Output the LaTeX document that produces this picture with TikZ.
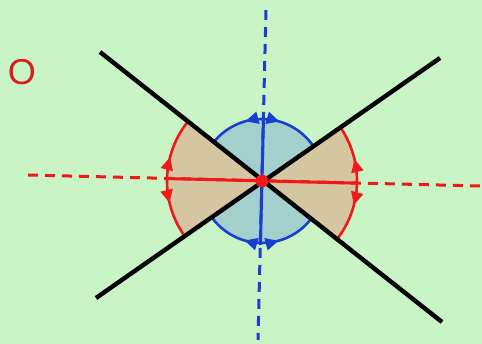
\documentclass[tikz,border=0pt]{standalone}
\usepackage{fontspec}
\setmainfont{Liberation Sans}
\usetikzlibrary{calc,arrows.meta,decorations.markings}
\definecolor{bggreen}{HTML}{C9F5C6}
\definecolor{tanfill}{HTML}{D5C6A2}
\definecolor{tealfill}{HTML}{A3D0CC}
\definecolor{redc}{HTML}{F01818}
\definecolor{bluec}{HTML}{1A3FD0}
\definecolor{labelred}{HTML}{D42020}
\tikzset{
  blinetype/.style={line width=4.4pt,black},
  raxis/.style={line width=3pt,redc},
  baxis/.style={line width=3pt,bluec},
  dashaxis/.style={dash pattern=on 10pt off 7pt},
  barc/.style={line width=2.6pt,bluec},
  rarc/.style={line width=2.6pt,redc},
  arrowat/.style={postaction={decorate},decoration={markings,mark=at position #1 with {\arrow{Triangle[length=13pt,width=12pt]}}}}
}
\begin{document}
\begin{tikzpicture}[x=1pt,y=-1pt]
\fill[bggreen] (0,0) rectangle (482,344);
\useasboundingbox (0,0) rectangle (482,344);
\coordinate (c) at (262,181);
\coordinate (L) at (28,175);
\coordinate (R) at (480,186);
\coordinate (T) at (266,10);
\coordinate (B) at (258,340);
\coordinate (A1) at (100,52);
\coordinate (A2) at (442,322);
\coordinate (B1) at (96,298);
\coordinate (B2) at (440,58);
\node[text=labelred,font=\fontsize{36}{36}\selectfont,inner sep=0pt] (lbl) at (22,72) {O};
\begin{scope}[shift={(c)},y=1pt]
  \fill[tealfill] (0,0) -- (35:62) arc[start angle=35,end angle=141.5,radius=62] -- cycle;
  \fill[tealfill] (0,0) -- (215:62) arc[start angle=215,end angle=321.5,radius=62] -- cycle;
  \fill[tanfill] (0,0) -- (141.5:95) arc[start angle=141.5,end angle=215,radius=95] -- cycle;
  \fill[tanfill] (0,0) -- (-38.5:95) arc[start angle=-38.5,end angle=35,radius=95] -- cycle;
  \draw[barc,arrowat=0.3] (90:62) arc[start angle=90,end angle=35,radius=62];
  \draw[barc,arrowat=0.3] (90:62) arc[start angle=90,end angle=141.5,radius=62];
  \draw[barc,arrowat=0.3] (270:62) arc[start angle=270,end angle=215,radius=62];
  \draw[barc,arrowat=0.3] (270:62) arc[start angle=270,end angle=321.5,radius=62];
  \draw[rarc,arrowat=0.38] (180:95) arc[start angle=180,end angle=141.5,radius=95];
  \draw[rarc,arrowat=0.38] (180:95) arc[start angle=180,end angle=215,radius=95];
  \draw[rarc,arrowat=0.38] (0:95) arc[start angle=0,end angle=35,radius=95];
  \draw[rarc,arrowat=0.38] (0:95) arc[start angle=0,end angle=-38.5,radius=95];
\end{scope}
\draw[raxis,dashaxis] (L) -- (R);
\draw[baxis,dashaxis] (T) -- (B);
\draw[raxis] ($(c)!95pt!(L)$) -- ($(c)!95pt!(R)$);
\draw[baxis] ($(c)!64pt!(T)$) -- ($(c)!64pt!(B)$);
\draw[blinetype] (A1) -- (A2);
\draw[blinetype] (B1) -- (B2);
\node[circle,fill=redc,minimum size=13pt,inner sep=0pt] (dot) at (c) {};
\end{tikzpicture}
\end{document}
